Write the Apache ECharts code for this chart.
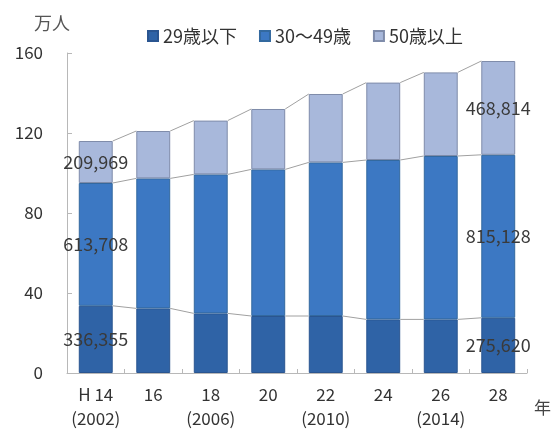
<!DOCTYPE html>
<html><head><meta charset="utf-8">
<script src="https://cdn.jsdelivr.net/npm/echarts@6/dist/echarts.min.js"></script>
<style>html,body{margin:0;padding:0;background:#fff}#c{width:554px;height:432px}</style>
</head><body><div id="c"></div>
<script>
const categories = ['H 14\n(2002)', '16', '18\n(2006)', '20', '22\n(2010)', '24', '26\n(2014)', '28'];
const seriesNames = ['29歳以下', '30～49歳', '50歳以上'];
const under29 = [33.6, 32.3, 29.8, 28.5, 28.5, 26.8, 26.8, 27.6];
const age30to49 = [61.4, 65.0, 69.5, 73.3, 76.8, 79.7, 81.7, 81.5];
const over50 = [21.0, 23.7, 26.9, 30.2, 34.2, 38.7, 41.8, 46.9];
const under29Labels = [336355, null, null, null, null, null, null, 275620];
const age30to49Labels = [613708, null, null, null, null, null, null, 815128];
const over50Labels = [209969, null, null, null, null, null, null, 468814];
const yTicks = [0, 40, 80, 120, 160];

const FONT = '"Noto Sans CJK JP", "Noto Sans", sans-serif';
const colors = ['#2F63A6', '#3C78C3', '#A8B8DB'];
const borders = ['#2A5590', '#33699F', '#7F8CAA'];
const vals = [under29, age30to49, over50];
const labs = [under29Labels, age30to49Labels, over50Labels];
const BAR_FRAC = 0.59;

function fmt(n) { return String(n).replace(/\B(?=(\d{3})+(?!\d))/g, ','); }

const barSeries = vals.map((arr, s) => ({
  name: seriesNames[s], type: 'bar', stack: 'total', barWidth: (BAR_FRAC * 100) + '%',
  itemStyle: { color: colors[s], borderColor: borders[s], borderWidth: 1 },
  z: 3,
  data: arr.map((v, i) => labs[s][i] == null ? v : {
    value: v,
    label: { show: true, position: 'inside', formatter: fmt(labs[s][i]),
      color: '#3a3a3a', fontSize: 18, fontFamily: FONT }
  })
}));

// cumulative levels for series lines
const cum = [];
let run = categories.map(() => 0);
vals.forEach(arr => { run = run.map((r, i) => r + arr[i]); cum.push(run.slice()); });
const lineData = [];
cum.forEach(level => {
  for (let i = 0; i < categories.length - 1; i++) lineData.push([i, level[i], level[i + 1]]);
});

const seriesLines = {
  type: 'custom', silent: true, z: 2,
  data: lineData,
  renderItem: function (params, api) {
    const i = api.value(0);
    const bw = api.size([1, 0])[0];
    const hw = bw * BAR_FRAC / 2;
    const p1 = api.coord([i, api.value(1)]);
    const p2 = api.coord([i + 1, api.value(2)]);
    return { type: 'line', shape: { x1: p1[0] + hw, y1: p1[1], x2: p2[0] - hw, y2: p2[1] },
      style: { stroke: '#a0a0a0', lineWidth: 1 } };
  }
};

const chart = echarts.init(document.getElementById('c'));
chart.setOption({
  animation: false,
  textStyle: { fontFamily: FONT },
  legend: {
    data: seriesNames, top: 22, left: 142, itemWidth: 10, itemHeight: 10, itemGap: 22,
    icon: 'rect', textStyle: { fontSize: 18, color: '#333', fontFamily: FONT }
  },
  grid: { left: 67, right: 27, top: 53, bottom: 59 },
  xAxis: {
    type: 'category', data: categories,
    name: '年', nameLocation: 'end', nameGap: 7,
    nameTextStyle: { fontSize: 17, color: '#444', verticalAlign: 'top', padding: [26, 0, 0, 0], fontFamily: FONT },
    axisLine: { lineStyle: { color: '#b8b8b8' } },
    axisTick: { show: true, inside: true, length: 4, lineStyle: { color: '#b8b8b8' } },
    axisLabel: { color: '#333', fontSize: 17, lineHeight: 24, margin: 10, interval: 0, fontFamily: FONT }
  },
  yAxis: {
    type: 'value', min: yTicks[0], max: yTicks[yTicks.length - 1], interval: 40,
    name: '万人', nameLocation: 'end', nameGap: 21,
    nameTextStyle: { fontSize: 18, color: '#555', padding: [0, 30, 0, 0], fontFamily: FONT },
    axisLine: { show: true, lineStyle: { color: '#b8b8b8' } },
    axisTick: { show: true, inside: true, length: 5, lineStyle: { color: '#b8b8b8' } },
    splitLine: { show: false },
    axisLabel: { color: '#333', fontSize: 17, margin: 24, fontFamily: FONT }
  },
  series: [...barSeries, seriesLines]
});
</script></body></html>
